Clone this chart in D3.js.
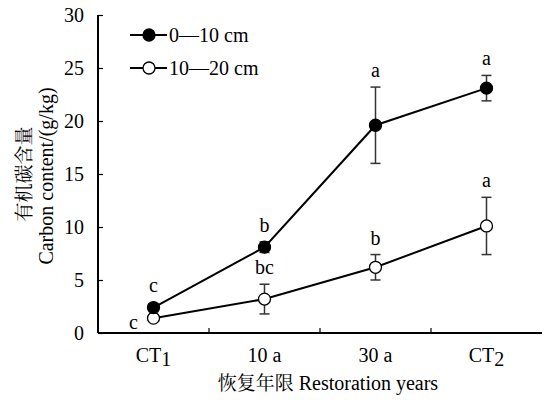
<!DOCTYPE html>
<html>
<head>
<meta charset="utf-8">
<script src="https://cdn.jsdelivr.net/npm/d3@7"></script>
<style>
  body { margin: 0; background: #fff; }
</style>
</head>
<body>
<svg width="544" height="400"></svg>
<script>
// categories and values
const categories = ["CT1", "10 a", "30 a", "CT2"]
const yTicks = [0, 5, 10, 15, 20, 25, 30]

const shallow = [2.4, 8.1, 19.6, 23.1]      // 0-10 cm
const shallowErr = [0.3, 0.5, 3.6, 1.2]
const shallowLetters = ["c", "b", "a", "a"]

const deep = [1.4, 3.2, 6.2, 10.1]          // 10-20 cm
const deepErr = [0.2, 1.4, 1.2, 2.7]
const deepLetters = ["c", "bc", "b", "a"]

const SERIF = "Liberation Serif"
const CJK = "Noto Serif CJK SC"
const FS = 20

const svg = d3.select('svg')
const margin = { top: 15, right: 2, bottom: 67, left: 98 }
const width = +svg.attr('width')
const height = +svg.attr('height')
const innerWidth = width - margin.left - margin.right
const innerHeight = height - margin.top - margin.bottom

const xScale = d3.scaleBand()
    .domain(categories)
    .range([0, innerWidth])

const yScale = d3.scaleLinear()
    .domain([0, 30])
    .range([innerHeight, 0])

const g = svg.append('g')
    .attr('transform', `translate(${margin.left}, ${margin.top})`)
    .attr('font-family', SERIF)

// y axis, ticks point inward
const yAxis = g.append('g')
    .call(d3.axisLeft(yScale).tickValues(yTicks).tickSize(-5))
    .attr('font-family', SERIF)
yAxis.select('.domain').attr('stroke', '#000').attr('stroke-width', 2).attr('d', `M0,0V${innerHeight}`)
yAxis.selectAll('.tick line').attr('stroke', '#000').attr('stroke-width', 1.2)
yAxis.selectAll('.tick text')
    .attr('font-family', SERIF)
    .attr('font-size', FS)
    .attr('fill', '#000')
    .attr('text-anchor', 'end')
    .attr('x', -14)

// x axis, ticks at the category borders
const xAxis = g.append('g')
    .attr('transform', `translate(0, ${innerHeight})`)
xAxis.append('line')
    .attr('x1', 0).attr('x2', innerWidth)
    .attr('stroke', '#000').attr('stroke-width', 2)
xAxis.selectAll('.xtick')
    .data(categories.slice(1))
    .join('line')
    .attr('x1', d => xScale(d)).attr('x2', d => xScale(d))
    .attr('y1', 0).attr('y2', -5)
    .attr('stroke', '#000').attr('stroke-width', 1.2)

const xLabels = xAxis.selectAll('.xlab')
    .data(categories)
    .join('text')
    .attr('x', d => xScale(d) + xScale.bandwidth() / 2)
    .attr('y', 29)
    .attr('text-anchor', 'middle')
    .attr('font-size', FS)
    .attr('font-family', SERIF)
xLabels.each(function(d) {
    const t = d3.select(this)
    if (d.startsWith('CT')) {
        t.append('tspan').text('CT')
        t.append('tspan').attr('dy', 4).text(d.slice(2))
    } else {
        t.text(d)
    }
})

// axis titles
const xTitle = g.append('text')
    .attr('x', innerWidth / 2 + 8)
    .attr('y', innerHeight + 57)
    .attr('text-anchor', 'middle')
xTitle.append('tspan')
    .attr('font-family', CJK)
    .attr('font-size', 19)
    .text('恢复年限 ')
xTitle.append('tspan')
    .attr('font-family', SERIF)
    .attr('font-size', FS)
    .text('Restoration years')

g.append('text')
    .attr('font-family', CJK)
    .attr('transform', `translate(${-67}, ${innerHeight / 2}) rotate(-90)`)
    .attr('text-anchor', 'middle')
    .attr('font-size', 19)
    .text('有机碳含量')
g.append('text')
    .attr('font-family', SERIF)
    .attr('transform', `translate(${-45}, ${innerHeight / 2 + 2}) rotate(-90)`)
    .attr('text-anchor', 'middle')
    .attr('font-size', FS)
    .text('Carbon content/(g/kg)')

const cx = d => xScale(d) + xScale.bandwidth() / 2

function drawSeries(values, errs, letters, fill, letterOffsets) {
    const rows = categories.map((c, i) => ({ c: c, v: values[i], e: errs[i], l: letters[i], off: letterOffsets[i] }))
    const s = g.append('g')
    // error bars
    rows.forEach(d => {
        const y1 = yScale(d.v - d.e), y2 = yScale(d.v + d.e)
        s.append('line').attr('x1', cx(d.c)).attr('x2', cx(d.c)).attr('y1', y1).attr('y2', y2)
            .attr('stroke', '#333').attr('stroke-width', 1.5)
        ;[y1, y2].forEach(y => s.append('line')
            .attr('x1', cx(d.c) - 5).attr('x2', cx(d.c) + 5).attr('y1', y).attr('y2', y)
            .attr('stroke', '#333').attr('stroke-width', 1.5))
    })
    s.append('path')
        .datum(rows)
        .attr('fill', 'none')
        .attr('stroke', '#000')
        .attr('stroke-width', 2)
        .attr('d', d3.line().x(d => cx(d.c)).y(d => yScale(d.v)))
    s.selectAll('circle')
        .data(rows)
        .join('circle')
        .attr('cx', d => cx(d.c))
        .attr('cy', d => yScale(d.v))
        .attr('r', 6)
        .attr('fill', fill)
        .attr('stroke', '#000')
        .attr('stroke-width', 1.3)
    s.selectAll('.letter')
        .data(rows)
        .join('text')
        .attr('font-family', SERIF)
        .attr('x', d => cx(d.c) + d.off[0])
        .attr('y', d => yScale(d.v + d.e) + d.off[1])
        .attr('text-anchor', 'middle')
        .attr('font-size', FS)
        .text(d => d.l)
}

drawSeries(deep, deepErr, deepLetters, '#fff', [[-20, 13], [0, -10], [0, -10], [0, -10]])
drawSeries(shallow, shallowErr, shallowLetters, '#000', [[0, -12], [0, -10], [0, -10], [0, -10]])

// legend
const legendItems = [
    { label: '0\u201410 cm', fill: '#000' },
    { label: '10\u201420 cm', fill: '#fff' }
]
const legend = g.selectAll('.legend')
    .data(legendItems)
    .join('g')
    .attr('transform', (d, i) => `translate(32, ${20 + i * 33})`)
legend.append('line')
    .attr('x1', 0).attr('x2', 37)
    .attr('stroke', '#000').attr('stroke-width', 2)
legend.append('circle')
    .attr('cx', 19).attr('r', 6)
    .attr('fill', d => d.fill)
    .attr('stroke', '#000').attr('stroke-width', 1.3)
legend.append('text')
    .attr('font-family', SERIF)
    .attr('x', 39).attr('y', 7)
    .attr('font-size', FS)
    .text(d => d.label)
</script>
</body>
</html>
